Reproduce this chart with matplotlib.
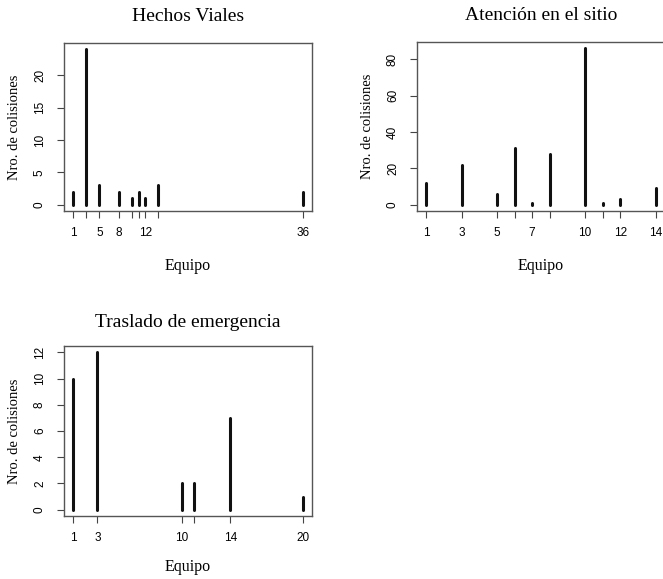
import matplotlib
matplotlib.use("Agg")
import matplotlib.pyplot as plt

# Hechos Viales
hv_equipo = [1, 3, 5, 8, 10, 11, 12, 14, 36]
hv_n = [2, 24, 3, 2, 1, 2, 1, 3, 2]
hv_labels = ["1", "", "5", "8", "", "", "12", "", "36"]

# Atencion en el sitio
at_equipo = [1, 3, 5, 6, 7, 8, 10, 11, 12, 14]
at_n = [12, 22, 6, 31, 1, 28, 86, 1, 3, 9]
at_labels = ["1", "3", "5", "", "7", "", "10", "", "12", "14"]

# Traslado de emergencia
tr_equipo = [1, 3, 10, 11, 14, 20]
tr_n = [10, 12, 2, 2, 7, 1]
tr_labels = ["1", "3", "10", "", "14", "20"]

serif = "Liberation Serif"
sans = "Liberation Sans"

fig = plt.figure(figsize=(6.63, 5.79), dpi=100)
W, H = 663, 579


def panel(box, x, y, labels, yticks, title, tpad, xpad):
    l, t, r, b = box
    ax = fig.add_axes([l / W, 1 - b / H, (r - l) / W, (b - t) / H])
    ax.vlines(x, 0, y, colors="#111111", linewidth=2.2, capstyle="round")
    # R style 4% axis extension
    xr = max(x) - min(x)
    ax.set_xlim(min(x) - 0.04 * xr, max(x) + 0.04 * xr)
    ax.set_ylim(-0.04 * max(y), max(y) * 1.04)
    ax.set_xticks(x)
    ax.set_xticklabels(labels, family=sans, fontsize=8.5)
    ax.set_yticks(yticks)
    ax.set_yticklabels([str(v) for v in yticks], family=sans, fontsize=8.5,
                       rotation=90, va="center")
    ax.tick_params(direction="out", length=5, width=0.8, color="#444444")
    ax.tick_params(axis="x", pad=6.5)
    ax.tick_params(axis="y", pad=8)
    for s in ax.spines.values():
        s.set_color("#555555")
        s.set_linewidth(1.0)
    ax.set_title(title, family=serif, fontsize=14, pad=tpad)
    ax.set_xlabel("Equipo", family=serif, fontsize=11.5, labelpad=xpad)
    ax.set_ylabel("Nro. de colisiones", family=serif, fontsize=10.5, labelpad=9)
    return ax


panel((64, 43, 312, 211), hv_equipo, hv_n, hv_labels, [0, 5, 10, 15, 20],
      "Hechos Viales", 16, 14)
panel((417, 42, 665, 211), at_equipo, at_n, at_labels, [0, 20, 40, 60, 80],
      "Atención en el sitio", 16, 14)
panel((64, 346, 312, 516), tr_equipo, tr_n, tr_labels, [0, 2, 4, 6, 8, 10, 12],
      "Traslado de emergencia", 14, 11)

fig.savefig("out.png", dpi=100)
